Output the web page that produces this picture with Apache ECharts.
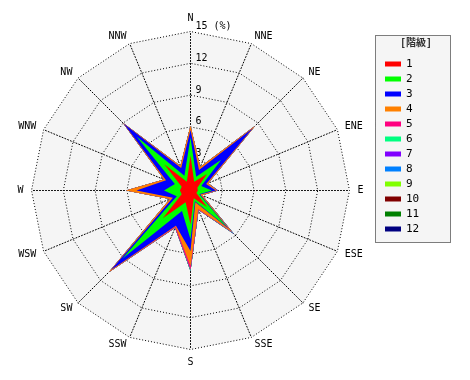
<!DOCTYPE html>
<html><head><meta charset="utf-8">
<script src="https://cdn.jsdelivr.net/npm/echarts@6/dist/echarts.min.js"></script>
<style>html,body{margin:0;padding:0;background:#fff}#c{width:470px;height:380px}</style>
</head><body><div id="c"></div>
<script>
// Directions, clockwise from N
var directions = ['N','NNE','NE','ENE','E','ESE','SE','SSE','S','SSW','SW','WSW','W','WNW','NW','NNW'];
var classNames = ['1','2','3','4','5','6','7','8','9','10','11','12'];
var classColors = ['#ff0000','#00ff00','#0000ff','#ff8000','#ff0080','#00ff80','#8000ff','#0080ff','#80ff00','#800000','#008000','#000080'];
var radialTicks = [0,3,6,9,12,15];
// frequency (%) per class, per direction (same order as directions)
var c1  = [3.3,0.9,2.2,0.7,0.7,0.6,2.2,0.8,3.2,1.2,3.7,0.9,1.0,0.9,3.5,0.9];
var c2  = [1.7,0.5,1.9,0.4,1.3,0.3,2.6,0.3,1.4,0.9,5.4,0.5,1.5,0.7,3.7,0.6];
var c3  = [0.7,0.7,4.2,0.5,0.4,0.1,0.3,0.1,1.1,1.5,1.5,0.4,2.6,0.9,1.7,0.8];
var c4  = [0.4,0.3,0.3,0.2,0.1,0.2,0.4,0.7,1.4,0.1,0.3,0.3,1.0,0.2,0.1,0.2];
var c5  = [0,0,0,0,0,0,0.1,0.1,0.4,0.1,0,0,0,0,0,0];
var c6  = [0,0,0,0,0,0,0.1,0,0.1,0,0,0,0,0,0,0];
var c7  = [0,0,0,0,0.1,0,0.1,0,0,0,0,0,0,0,0,0];
var c8  = [0,0,0,0,0,0,0,0,0,0,0,0,0,0,0,0];
var c9  = [0,0,0,0,0,0,0,0,0,0,0,0,0,0,0,0];
var c10 = [0,0,0,0,0,0,0,0,0,0,0,0,0,0,0,0];
var c11 = [0,0,0,0,0,0,0,0,0,0,0,0,0,0,0,0];
var c12 = [0,0,0,0,0,0,0,0,0,0,0,0,0,0,0,0];
var classes = [c1,c2,c3,c4,c5,c6,c7,c8,c9,c10,c11,c12];

var FONT = 'DejaVu Sans Mono';
// radar places indicators counter-clockwise; reorder so display is clockwise
var order = [0];
for (var i = directions.length - 1; i >= 1; i--) order.push(i);

var cum = [];
var run = directions.map(function(){return 0;});
classes.forEach(function(arr){
  run = run.map(function(v, j){ return v + arr[j]; });
  cum.push(run.slice());
});

var series = [];
for (var k = classes.length - 1; k >= 0; k--) {
  series.push({
    type: 'radar', name: classNames[k], symbol: 'none', silent: true,
    z: 20 - k,
    lineStyle: {width: 0},
    itemStyle: {color: classColors[k]},
    areaStyle: {color: classColors[k], opacity: 1},
    data: [{name: classNames[k], value: order.map(function(j){ return +cum[k][j].toFixed(3); })}]
  });
}

var CX = 190.5, CY = 190.5;
var chart = echarts.init(document.getElementById('c'), null, {renderer: 'canvas'});
chart.setOption({
  animation: false,
  backgroundColor: '#ffffff',
  radar: {
    center: [CX, CY], radius: 159, startAngle: 90, shape: 'polygon', splitNumber: 5,
    indicator: order.map(function(j){ return {name: directions[j], min: 0, max: 15}; }),
    axisName: {color: '#000', fontFamily: FONT, fontSize: 10},
    nameGap: 8,
    splitLine: {lineStyle: {color: '#000', width: 1, type: [1, 2]}},
    splitArea: {show: true, areaStyle: {color: ['#f5f5f5']}},
    axisLine: {lineStyle: {color: '#000', width: 1, type: [1, 2]}},
    z: 0
  },
  polar: {center: [CX, CY], radius: 159, z: 1},
  angleAxis: {show: false, type: 'value', min: 0, max: 360, startAngle: 90},
  radiusAxis: {
    type: 'value', min: 0, max: 15, interval: 3, z: 1,
    axisLine: {show: false}, axisTick: {show: false}, splitLine: {show: false},
    axisLabel: {
      show: true, color: '#000', fontFamily: FONT, fontSize: 10, margin: -5,
      align: 'left', verticalAlign: 'bottom',
      formatter: function(v){ return radialTicks.indexOf(v) < 0 ? '' : (v === 15 ? '15 (%)' : String(v)); }
    }
  },
  legend: {
    orient: 'vertical', left: 380, top: 53, itemWidth: 16, itemHeight: 5, itemGap: 3,
    icon: 'rect', selectedMode: false, data: classNames,
    textStyle: {color: '#000', fontFamily: FONT, fontSize: 11, lineHeight: 12}
  },
  graphic: [
    {type: 'rect', z: -1, shape: {x: 375.5, y: 35.5, width: 75, height: 207},
     style: {fill: '#f5f5f5', stroke: '#000', lineWidth: 1, lineDash: [1, 1]}},
    {type: 'text', z: 5, x: 416, y: 43,
     style: {text: '[階級]', fill: '#333', font: 'bold 10px "DejaVu Sans Mono", "Noto Sans CJK JP"', textAlign: 'center', textVerticalAlign: 'middle'}}
  ],
  series: series
});
</script></body></html>
